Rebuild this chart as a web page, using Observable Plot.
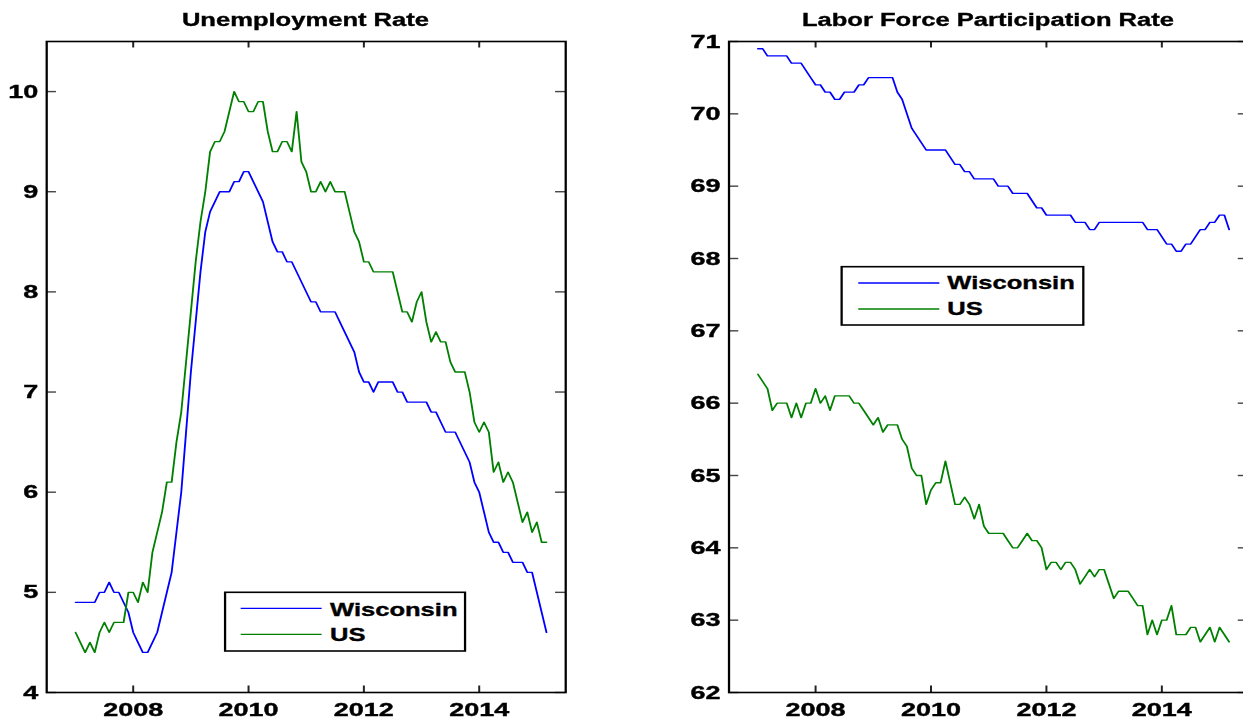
<!DOCTYPE html>
<html>
<head>
<meta charset="utf-8">
<script src="https://cdn.jsdelivr.net/npm/d3@7"></script>
<script src="https://cdn.jsdelivr.net/npm/@observablehq/plot@0.6"></script>
<style>
  html, body { margin: 0; padding: 0; background: #fff; overflow: hidden; }
  #stage { position: relative; width: 885px; height: 719px; transform: scaleX(1.42); transform-origin: 0 0; }
  .panel { position: absolute; top: 0; }
  .title { position: absolute; top: 9.6px; font: bold 18px "Liberation Sans", Arial, sans-serif; line-height: 20px; text-align: center; color: #000; white-space: nowrap; -webkit-text-stroke: 0.35px #000; }
  .panel svg.plot { position: absolute; top: 30px; left: 0; }
  .panel svg.plot g[aria-label$="axis tick label"] text { stroke: #000; stroke-width: 0.4px; }
  #legend { position: absolute; left: 0; top: 0; pointer-events: none; }
</style>
</head>
<body>
<div id="stage"></div>
<script>
// ---------------- data ----------------
const startYear = 2007;            // first month: Jan 2007, monthly through Mar 2015
const seriesNames = ["Wisconsin", "US"];
const seriesColors = ["#0000ff", "#008000"];

const unempWisconsin = [
  4.9,4.9,4.9,4.9,4.9,5.0,5.0,5.1,5.0,5.0,4.9,4.8,
  4.6,4.5,4.4,4.4,4.5,4.6,4.8,5.0,5.2,5.6,6.0,6.6,
  7.2,7.7,8.2,8.6,8.8,8.9,9.0,9.0,9.0,9.1,9.1,9.2,
  9.2,9.1,9.0,8.9,8.7,8.5,8.4,8.4,8.3,8.3,8.2,8.1,
  8.0,7.9,7.9,7.8,7.8,7.8,7.8,7.7,7.6,7.5,7.4,7.2,
  7.1,7.1,7.0,7.1,7.1,7.1,7.1,7.0,7.0,6.9,6.9,6.9,
  6.9,6.9,6.8,6.8,6.7,6.6,6.6,6.6,6.5,6.4,6.3,6.1,
  6.0,5.8,5.6,5.5,5.5,5.4,5.4,5.3,5.3,5.3,5.2,5.2,
  5.0,4.8,4.6
];
const unempUS = [
  4.6,4.5,4.4,4.5,4.4,4.6,4.7,4.6,4.7,4.7,4.7,5.0,
  5.0,4.9,5.1,5.0,5.4,5.6,5.8,6.1,6.1,6.5,6.8,7.3,
  7.8,8.3,8.7,9.0,9.4,9.5,9.5,9.6,9.8,10.0,9.9,9.9,
  9.8,9.8,9.9,9.9,9.6,9.4,9.4,9.5,9.5,9.4,9.8,9.3,
  9.2,9.0,9.0,9.1,9.0,9.1,9.0,9.0,9.0,8.8,8.6,8.5,
  8.3,8.3,8.2,8.2,8.2,8.2,8.2,8.0,7.8,7.8,7.7,7.9,
  8.0,7.7,7.5,7.6,7.5,7.5,7.3,7.2,7.2,7.2,7.0,6.7,
  6.6,6.7,6.6,6.2,6.3,6.1,6.2,6.1,5.9,5.7,5.8,5.6,
  5.7,5.5,5.5
];
const lfprWisconsin = [
  70.9,70.9,70.8,70.8,70.8,70.8,70.8,70.7,70.7,70.7,70.6,70.5,
  70.4,70.4,70.3,70.3,70.2,70.2,70.3,70.3,70.3,70.4,70.4,70.5,
  70.5,70.5,70.5,70.5,70.5,70.3,70.2,70.0,69.8,69.7,69.6,69.5,
  69.5,69.5,69.5,69.5,69.4,69.3,69.3,69.2,69.2,69.1,69.1,69.1,
  69.1,69.1,69.0,69.0,69.0,68.9,68.9,68.9,68.9,68.8,68.7,68.7,
  68.6,68.6,68.6,68.6,68.6,68.6,68.5,68.5,68.5,68.4,68.4,68.5,
  68.5,68.5,68.5,68.5,68.5,68.5,68.5,68.5,68.5,68.4,68.4,68.4,
  68.3,68.2,68.2,68.1,68.1,68.2,68.2,68.3,68.4,68.4,68.5,68.5,
  68.6,68.6,68.4
];
const lfprUS = [
  66.4,66.3,66.2,65.9,66.0,66.0,66.0,65.8,66.0,65.8,66.0,66.0,
  66.2,66.0,66.1,65.9,66.1,66.1,66.1,66.1,66.0,66.0,65.9,65.8,
  65.7,65.8,65.6,65.7,65.7,65.7,65.5,65.4,65.1,65.0,65.0,64.6,
  64.8,64.9,64.9,65.2,64.9,64.6,64.6,64.7,64.6,64.4,64.6,64.3,
  64.2,64.2,64.2,64.2,64.1,64.0,64.0,64.1,64.2,64.1,64.1,64.0,
  63.7,63.8,63.8,63.7,63.8,63.8,63.7,63.5,63.6,63.7,63.6,63.7,
  63.7,63.5,63.3,63.4,63.4,63.4,63.3,63.2,63.2,62.8,63.0,62.8,
  63.0,63.0,63.2,62.8,62.8,62.8,62.9,62.9,62.7,62.8,62.9,62.7,
  62.9,62.8,62.7
];

const xTicks = [2008, 2010, 2012, 2014];
const yTicksUnemp = [4, 5, 6, 7, 8, 9, 10];
const yTicksLfpr = [62, 63, 64, 65, 66, 67, 68, 69, 70, 71];
const titles = ["Unemployment Rate", "Labor Force Participation Rate"];

// -------------- build rows --------------
function rows(wi, us) {
  const out = [];
  wi.forEach((v, i) => out.push({date: startYear + i / 12, value: v, series: seriesNames[0]}));
  us.forEach((v, i) => out.push({date: startYear + i / 12, value: v, series: seriesNames[1]}));
  return out;
}

const FONT = '"Liberation Sans", Arial, Helvetica, sans-serif';
const H = 689, MT = 11, MB = 27;
const PH = H - MT - MB;

function panel({left, width, ml, mr, yDomain, yTicks, data, title}) {
  const PW = width - ml - mr;
  const wrap = document.createElement("div");
  wrap.className = "panel";
  wrap.style.left = left + "px";
  wrap.style.width = width + "px";
  wrap.style.height = "719px";

  const t = document.createElement("div");
  t.className = "title";
  t.style.left = ml + "px";
  t.style.width = PW + "px";
  t.textContent = title;
  wrap.appendChild(t);

  const chart = Plot.plot({
    width, height: H,
    marginTop: MT, marginBottom: MB, marginLeft: ml, marginRight: mr,
    style: {fontFamily: FONT, fontSize: "19px", fontWeight: "bold", color: "#000", background: "transparent", overflow: "visible"},
    x: {domain: [2006.5, 2015.5]},
    y: {domain: yDomain},
    color: {domain: seriesNames, range: seriesColors},
    marks: [
      Plot.line(data, {x: "date", y: "value", stroke: "series", strokeWidth: 1.3, z: "series"}),
      // inward tick marks on all four sides
      Plot.tickY(yTicks, {y: d => d, stroke: "#444", strokeWidth: 1.4, insetRight: PW - 7}),
      Plot.tickY(yTicks, {y: d => d, stroke: "#444", strokeWidth: 1.4, insetLeft: PW - 7}),
      Plot.tickX(xTicks, {x: d => d, stroke: "#222", strokeWidth: 1.4, insetBottom: PH - 6.5}),
      Plot.tickX(xTicks, {x: d => d, stroke: "#222", strokeWidth: 1.4, insetTop: PH - 6.5}),
      Plot.axisY({ticks: yTicks, anchor: "left", tickSize: 0, tickPadding: 6, label: null,
                  fontSize: 19, fontWeight: "bold", fill: "#000", tickFormat: d => String(d)}),
      Plot.axisX({ticks: xTicks, anchor: "bottom", tickSize: 0, tickPadding: 10, label: null,
                  fontSize: 19, fontWeight: "bold", fill: "#000", tickFormat: d => String(d)}),
      Plot.frame({stroke: "#000", strokeWidth: 1.6})
    ]
  });
  chart.classList.add("plot");
  wrap.appendChild(chart);
  return wrap;
}

const stage = document.getElementById("stage");
stage.appendChild(panel({left: 0, width: 430, ml: 32.39, mr: 32.11, yDomain: [4, 10.5],
  yTicks: yTicksUnemp, data: rows(unempWisconsin, unempUS), title: titles[0]}));
stage.appendChild(panel({left: 460, width: 425, ml: 52.89, mr: 6.34, yDomain: [62, 71],
  yTicks: yTicksLfpr, data: rows(lfprWisconsin, lfprUS), title: titles[1]}));

// -------------- legends --------------
const legendBoxes = [
  {x: 158.5, y: 592.3, w: 169, h: 58.7, lx1: 169.5, lx2: 226.5, tx: 232.4, ly: [608.3, 634.3], ty: [616, 641]},
  {x: 592.7, y: 266.7, w: 170.2, h: 58.3, lx1: 604.4, lx2: 661.5, tx: 667.1, ly: [283, 309], ty: [289.3, 315]}
];
const lg = d3.select(stage).append("svg").attr("id", "legend").attr("width", 885).attr("height", 719);
legendBoxes.forEach(b => {
  const g = lg.append("g");
  g.append("rect").attr("x", b.x).attr("y", b.y).attr("width", b.w).attr("height", b.h)
    .attr("fill", "#fff").attr("stroke", "#000").attr("stroke-width", 1.6);
  seriesNames.forEach((name, k) => {
    g.append("line").attr("x1", b.lx1).attr("x2", b.lx2).attr("y1", b.ly[k]).attr("y2", b.ly[k])
      .attr("stroke", seriesColors[k]).attr("stroke-width", 1.3);
    g.append("text").attr("x", b.tx).attr("y", b.ty[k]).text(name)
      .attr("font-family", FONT).attr("font-weight", "bold").attr("font-size", 18).attr("fill", "#000")
      .attr("stroke", "#000").attr("stroke-width", 0.35);
  });
});
</script>
</body>
</html>
